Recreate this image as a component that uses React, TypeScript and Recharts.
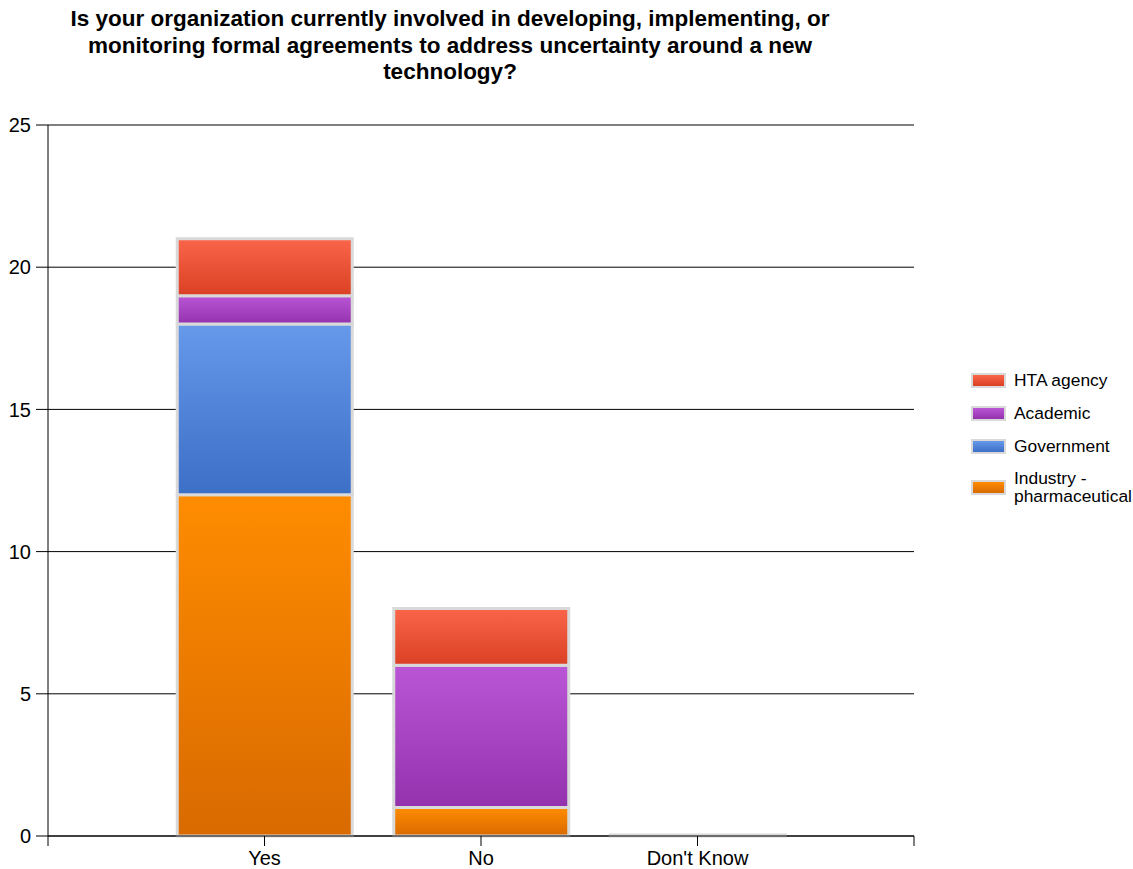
import React from 'react';
import { BarChart, Bar, XAxis, YAxis, CartesianGrid } from 'recharts';

const categories = ['Yes', 'No', "Don't Know"];
const industry = [12, 1, 0];
const government = [6, 0, 0];
const academic = [1, 5, 0];
const hta = [2, 2, 0];
const yTicks = [0, 5, 10, 15, 20, 25];

const series = [
  { key: 'industry', name: 'Industry - pharmaceutical', top: '#FF8C00', bottom: '#D86A00' },
  { key: 'government', name: 'Government', top: '#6699EA', bottom: '#3C6FC6' },
  { key: 'academic', name: 'Academic', top: '#BA56D6', bottom: '#9432AD' },
  { key: 'hta', name: 'HTA agency', top: '#FA6549', bottom: '#DA4024' },
];

const data = categories.map((c, i) => ({
  x: i + 1,
  name: c,
  industry: industry[i],
  government: government[i],
  academic: academic[i],
  hta: hta[i],
}));

const FONT = '"Liberation Sans", Arial, sans-serif';

export default function App() {
  return (
    <div style={{ position: 'absolute', left: 0, top: 0, width: 1133, height: 869, background: '#fff', fontFamily: FONT }}>
      <div
        style={{
          position: 'absolute',
          left: 0,
          width: 900,
          top: 6,
          textAlign: 'center',
          fontWeight: 'bold',
          fontSize: 22.5,
          lineHeight: '26.5px',
          color: '#000',
        }}
      >
        Is your organization currently involved in developing, implementing, or
        <br />
        monitoring formal agreements to address uncertainty around a new
        <br />
        technology?
      </div>
      <BarChart
        width={1133}
        height={869}
        data={data}
        margin={{ top: 125, right: 219, bottom: 3, left: 0 }}
        style={{ position: 'absolute', left: 0, top: 0 }}
      >
        <defs>
          {series.map((s) => (
            <linearGradient key={s.key} id={`g-${s.key}`} x1="0" y1="0" x2="0" y2="1">
              <stop offset="0%" stopColor={s.top} />
              <stop offset="100%" stopColor={s.bottom} />
            </linearGradient>
          ))}
        </defs>
        <CartesianGrid vertical={false} horizontal stroke="#000" strokeDasharray="" />
        <XAxis
          dataKey="x"
          type="number"
          domain={[0, 4]}
          ticks={[0, 1, 2, 3, 4]}
          tickFormatter={(v: number) => categories[v - 1] ?? ''}
          height={30}
          tickSize={10}
          tickMargin={5}
          stroke="#000"
          tick={{ fill: '#000', fontSize: 20, fontFamily: FONT }}
          interval={0}
          allowDataOverflow
        />
        <YAxis
          domain={[0, 25]}
          ticks={yTicks}
          width={48}
          tickSize={12}
          tickMargin={5}
          stroke="#000"
          tick={{ fill: '#000', fontSize: 20, fontFamily: FONT }}
          interval={0}
        />
        {series.map((s, i) => (
          <Bar
            key={s.key}
            dataKey={s.key}
            stackId="a"
            barSize={175}
            fill={`url(#g-${s.key})`}
            stroke="#D9D9D9"
            strokeWidth={3}
            minPointSize={i === 0 ? 1 : 0}
            isAnimationActive={false}
          />
        ))}
      </BarChart>
      <div style={{ position: 'absolute', left: 971, top: 370, fontSize: 17.4, color: '#000' }}>
        {[...series].reverse().map((s) => (
          <div key={s.key} style={{ display: 'flex', alignItems: 'center', marginBottom: 13, minHeight: 20 }}>
            <div
              style={{
                width: 31,
                height: 11,
                border: '2px solid #D9D9D9',
                background: `linear-gradient(${s.top}, ${s.bottom})`,
                marginRight: 8,
                flexShrink: 0,
              }}
            />
            <div style={{ lineHeight: '18px', width: 130 }}>
              {s.key === 'industry' ? (
                <>
                  Industry -
                  <br />
                  pharmaceutical
                </>
              ) : (
                s.name
              )}
            </div>
          </div>
        ))}
      </div>
    </div>
  );
}
